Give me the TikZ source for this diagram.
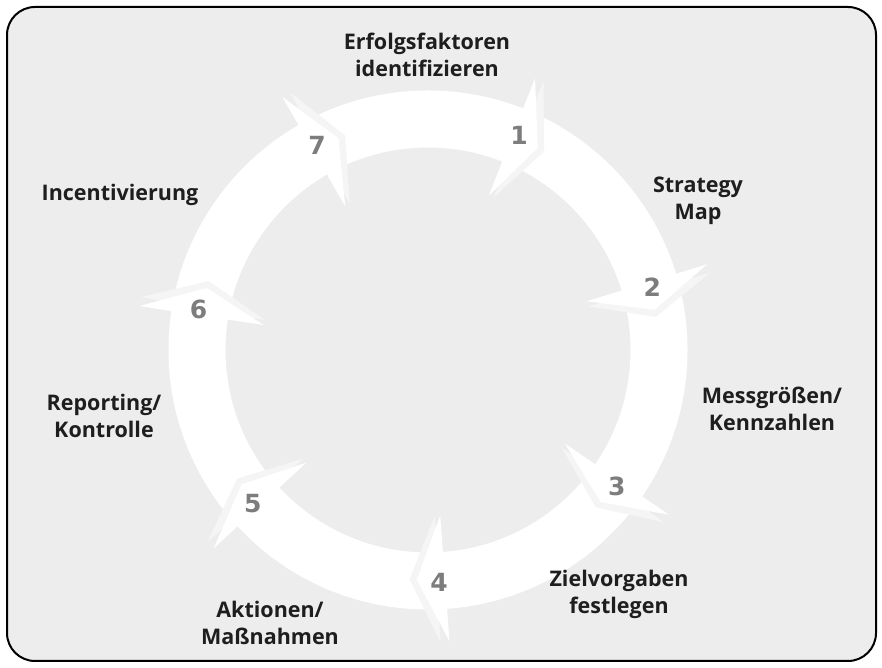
\documentclass[tikz,border=0pt]{standalone}
\usepackage{fontspec}
\setmainfont{Open Sans}
\newfontfamily\digitfont{DejaVu Sans}
\usepackage{xcolor}
\usepackage{tikz}
\usetikzlibrary{positioning,calc}

\definecolor{panelgray}{HTML}{EDEDED}
\definecolor{gapgray}{HTML}{F5F5F5}
\definecolor{numgray}{HTML}{7D7D7D}
\definecolor{textdark}{HTML}{1E1E1E}

\tikzset{
  steplabel/.style={font=\fontsize{21.5}{27}\selectfont\bfseries, text=textdark, align=center, inner sep=0pt},
  stepnum/.style={font=\digitfont\fontsize{25}{25}\selectfont\bfseries, text=numgray, inner sep=0pt}
}

\begin{document}
\begin{tikzpicture}[x=1pt, y=1pt]
    \useasboundingbox (0,0) rectangle (882,668);

    % Panel
    \draw[line width=2pt, rounded corners=28pt, fill=panelgray] (7,7) rectangle (876,661);

    % Ring
    \coordinate (centre) at (428,318);
    \fill[white, even odd rule] (centre) circle (259.5) (centre) circle (202.5);

    % Arrow heads with numbers
    \begin{scope}[shift={(centre)}]
        \foreach \k in {1,...,7} {
            \pgfmathsetmacro\t{61.5-51.4286*(\k-1)}
            \fill[gapgray] (\t+5.2:166) -- (\t-1.8:230) -- (\t+5.2:292) -- cycle;
            \fill[white] (\t+7:166) -- (\t:230) -- (\t+7:292) -- cycle;
            \node[stepnum] (num\k) at (\t+5.5:233) {\k};
        }
    \end{scope}

    % Step labels
    \node[steplabel] (factors) at (427,613) {Erfolgsfaktoren\\identifizieren};
    \node[steplabel] (strategy) at (698,467) {Strategy\\Map};
    \node[steplabel] (measures) at (772,259) {Messgrößen/\\Kennzahlen};
    \node[steplabel] (targets) at (619,74) {Zielvorgaben\\festlegen};
    \node[steplabel] (actions) at (270,45) {Aktionen/\\Maßnahmen};
    \node[steplabel] (reporting) at (104,252) {Reporting/\\Kontrolle};
    \node[steplabel] (incentives) at (120,473) {Incentivierung};
\end{tikzpicture}
\end{document}
